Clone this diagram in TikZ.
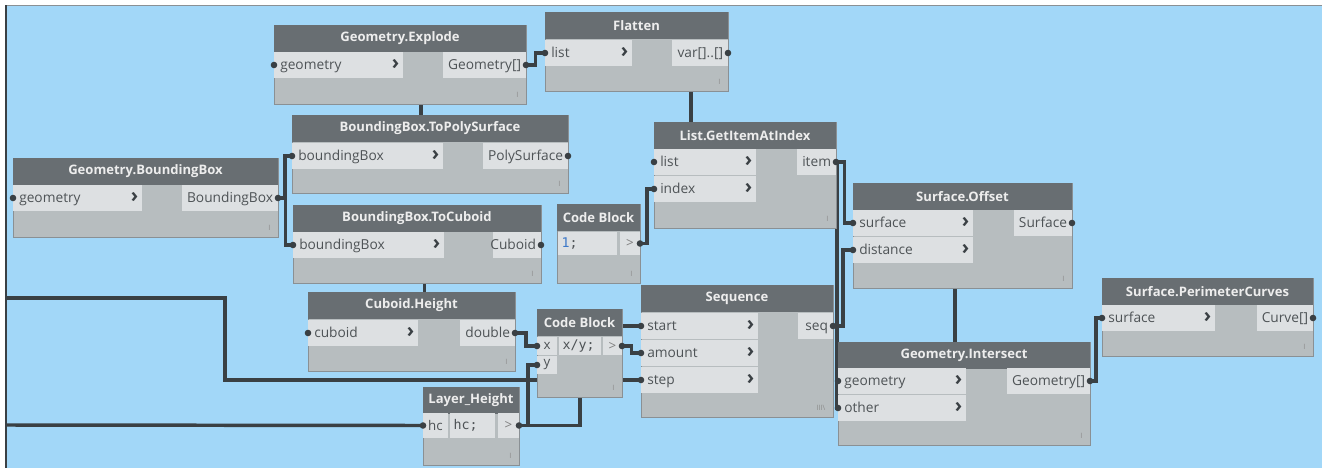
\documentclass[tikz,border=0pt]{standalone}
\usepackage{fontspec}
\setmainfont{Open Sans}
\setmonofont{DejaVu Sans Mono}
\usetikzlibrary{calc,backgrounds}

\definecolor{canvasblue}{RGB}{162,215,248}
\definecolor{titlegray}{RGB}{104,110,114}
\definecolor{bodygray}{RGB}{183,189,191}
\definecolor{rowgray}{RGB}{221,224,226}
\definecolor{edgegray}{RGB}{138,144,148}
\definecolor{labelgray}{RGB}{78,83,86}
\definecolor{wiregray}{RGB}{58,64,68}
\definecolor{codeblue}{RGB}{60,120,200}

\newcommand{\pxu}{0.75pt}

\tikzset{
  dynbody/.style={draw=edgegray, line width=0.7pt, fill=bodygray, anchor=north west, inner sep=0pt, outer sep=0pt},
  dyntitle/.style={fill=titlegray, text=white!93!black, font=\bfseries\fontsize{9.8}{11}\selectfont, anchor=north west, inner sep=0pt, outer sep=0pt, minimum height=20.25pt},
  lacing/.style={text=black!45, font=\fontsize{5.5}{6}\selectfont, anchor=south east, inner sep=0pt},
  portrow/.style={fill=rowgray, anchor=north west, inner sep=0pt, outer sep=0pt, minimum height=19.5pt},
  portlbl/.style={text=labelgray, font=\fontsize{10.3}{12}\selectfont, inner xsep=4.5pt, inner ysep=0pt, text height=1.6ex, text depth=.35ex},
  chev/.style={text=wiregray, font=\bfseries\fontsize{15}{15}\selectfont, inner sep=0pt},
  cell/.style={fill=rowgray, anchor=north west, inner sep=0pt, outer sep=0pt},
  codetxt/.style={text=labelgray, font=\ttfamily\fontsize{10}{11}\selectfont, anchor=west, inner xsep=2.5pt, inner ysep=0pt},
  wire/.style={draw=wiregray, line width=2.6pt},
  elbow/.style={to path={-| ($(\tikztostart)!0.5!(\tikztotarget)$) |- (\tikztotarget)}}
}

% #2 name, #3 x, #4 y, #5 width, #6 height, #7 title (all in px)
\newcommand{\dynnode}[7][I]{%
  \node[dynbody, minimum width=#5*\pxu, minimum height=#6*\pxu] (#2) at (#3,#4) {};
  \node[dyntitle, minimum width=#5*\pxu] (#2-t) at (#2.north west) {#7};
  \node[lacing] (#2-l) at ([xshift=-5.5pt,yshift=5pt]#2.south east) {#1};
}
\newcommand{\inport}[5]{%
  \node[portrow, minimum width=#4*\pxu] (#1) at (#2,#3) {};
  \node[portlbl, anchor=west] (#1-n) at (#1.west) {#5};
  \node[chev] (#1-c) at ([xshift=-5.5pt,yshift=0.6pt]#1.east) {›};
  \fill[wiregray] (#1.west) circle[radius=3.3*\pxu];
}
\newcommand{\outport}[5]{%
  \node[portrow, anchor=north east, minimum width=#4*\pxu] (#1) at (#2,#3) {};
  \node[portlbl, anchor=east, inner xsep=3.5pt] (#1-n) at (#1.east) {#5};
  \fill[wiregray] (#1.east) circle[radius=3.3*\pxu];
}

\begin{document}
\begin{tikzpicture}[x=\pxu, y=-\pxu]
  \useasboundingbox (0,0) rectangle (1322,468);

  % nodes
  \dynnode{gbb}{13}{158}{265}{79}{Geometry.BoundingBox}
  \inport{gbb-i}{13}{185}{129}{geometry}
  \outport{gbb-o}{278}{185}{96}{BoundingBox}

  \dynnode{gex}{274}{25}{252}{79}{Geometry.Explode}
  \inport{gex-i}{274}{52}{129}{geometry}
  \outport{gex-o}{526}{52}{83}{Geometry[]}

  \dynnode{flat}{545}{12}{183}{79}{Flatten}
  \inport{flat-i}{545}{40}{87}{list}
  \outport{flat-o}{728}{40}{56}{var[]..[]}

  \dynnode{tps}{292}{115}{276}{78}{BoundingBox.ToPolySurface}
  \inport{tps-i}{292}{143}{151}{boundingBox}
  \outport{tps-o}{568}{143}{85}{PolySurface}

  \dynnode{tcu}{293}{205}{248}{78}{BoundingBox.ToCuboid}
  \inport{tcu-i}{293}{232}{151}{boundingBox}
  \outport{tcu-o}{541}{232}{48}{Cuboid}

  \dynnode{gia}{654}{122}{182}{106}{List.GetItemAtIndex}
  \inport{gia-i1}{654}{149}{102}{list}
  \inport{gia-i2}{654}{176}{102}{index}
  \outport{gia-o}{836}{149}{39}{item}

  \dynnode{cbone}{557}{204}{83}{79}{Code Block}
  \node[cell, minimum width=59*\pxu, minimum height=17.25pt] (cbone-c) at (558,232) {};
  \node[codetxt] (cbone-ct) at (cbone-c.west) {\textcolor{codeblue}{1};};
  \node[cell, minimum width=20*\pxu, minimum height=17.25pt, text=black!50] (cbone-o) at (620,232) {>};
  \fill[wiregray] (cbone-o.east) circle[radius=3.3*\pxu];

  \dynnode{sof}{853}{183}{219}{105}{Surface.Offset}
  \inport{sof-i1}{853}{210}{120}{surface}
  \inport{sof-i2}{853}{237}{120}{distance}
  \outport{sof-o}{1072}{210}{58}{Surface}

  \dynnode{spc}{1102}{278}{211}{78}{Surface.PerimeterCurves}
  \inport{spc-i}{1102}{305}{113}{surface}
  \outport{spc-o}{1313}{305}{56}{Curve[]}

  \dynnode{chg}{308}{292}{207}{79}{Cuboid.Height}
  \inport{chg-i}{308}{320}{110}{cuboid}
  \outport{chg-o}{515}{320}{55}{double}

  \dynnode{cbtwo}{537}{309}{85}{88}{Code Block}
  \node[cell, minimum width=20*\pxu, minimum height=13.5pt, text=labelgray] (cbtwo-x) at (537,337) {x};
  \node[cell, minimum width=42*\pxu, minimum height=13.5pt] (cbtwo-c) at (559,337) {};
  \node[codetxt] (cbtwo-ct) at (cbtwo-c.west) {x/y;};
  \node[cell, minimum width=19*\pxu, minimum height=13.5pt, text=black!50] (cbtwo-o) at (603,337) {>};
  \node[cell, minimum width=20*\pxu, minimum height=13.5pt, text=labelgray] (cbtwo-y) at (537,356) {y};
  \fill[wiregray] (cbtwo-x.west) circle[radius=3.3*\pxu];
  \fill[wiregray] (cbtwo-y.west) circle[radius=3.3*\pxu];
  \fill[wiregray] (cbtwo-o.east) circle[radius=3.3*\pxu];

  \dynnode{lh}{423}{387}{96}{78}{Layer\_Height}
  \node[cell, minimum width=25*\pxu, minimum height=18.75pt, text=labelgray] (lh-i) at (423,413) {hc};
  \node[cell, minimum width=45*\pxu, minimum height=18.75pt] (lh-c) at (450,413) {};
  \node[codetxt] (lh-ct) at (lh-c.west) {hc;};
  \node[cell, minimum width=21*\pxu, minimum height=18.75pt, text=black!50] (lh-o) at (498,413) {>};
  \fill[wiregray] (lh-i.west) circle[radius=3.3*\pxu];
  \fill[wiregray] (lh-o.east) circle[radius=3.3*\pxu];

  \dynnode[III\textbackslash]{seq}{641}{285}{192}{132}{Sequence}
  \inport{seq-i1}{641}{313}{117}{start}
  \inport{seq-i2}{641}{340}{117}{amount}
  \inport{seq-i3}{641}{367}{117}{step}
  \outport{seq-o}{833}{313}{35}{seq}

  \dynnode{gin}{838}{342}{252}{103}{Geometry.Intersect}
  \inport{gin-i1}{838}{368}{128}{geometry}
  \inport{gin-i2}{838}{395}{128}{other}
  \outport{gin-o}{1090}{368}{83}{Geometry[]}

  \coordinate (srcA) at (6,298);
  \coordinate (bendA) at (225,298);
  \coordinate (srcB) at (6,425);

  % canvas and wires behind the nodes
  \begin{scope}[on background layer]
    \fill[white] (0,0) rectangle (1322,468);
    \fill[canvasblue] (6,5) rectangle (1322,468);
    \draw[edgegray, line width=0.5pt] (6,5) -- (1322,5);
    \draw[wiregray, line width=1.6pt] (6,5) -- (6,468);

    \draw[wire] (gbb-o.east) to[elbow] (tps-i.west);
    \draw[wire] (gbb-o.east) to[elbow] (tcu-i.west);
    \draw[wire] (tps-o.east) to[elbow] (gex-i.west);
    \draw[wire] (gex-o.east) to[elbow] (flat-i.west);
    \draw[wire] (flat-o.east) to[elbow] (gia-i1.west);
    \draw[wire] (cbone-o.east) to[elbow] (gia-i2.west);
    \draw[wire] (tcu-o.east) to[elbow] (chg-i.west);
    \draw[wire] (chg-o.east) to[elbow] (cbtwo-x.west);
    \draw[wire] (lh-o.east) to[elbow] (cbtwo-y.west);
    \draw[wire] (lh-o.east) to[elbow] (seq-i1.west);
    \draw[wire] (cbtwo-o.east) to[elbow] (seq-i2.west);
    \draw[wire] (srcA) -- (bendA) |- (seq-i3.west);
    \draw[wire] (srcB) -- (lh-i.west);
    \draw[wire] (gia-o.east) to[elbow] (sof-i1.west);
    \draw[wire] (gia-o.east) to[elbow] (gin-i2.west);
    \draw[wire] (seq-o.east) to[elbow] (sof-i2.west);
    \draw[wire] (sof-o.east) to[elbow] (gin-i1.west);
    \draw[wire] (gin-o.east) to[elbow] (spc-i.west);
  \end{scope}
\end{tikzpicture}
\end{document}
